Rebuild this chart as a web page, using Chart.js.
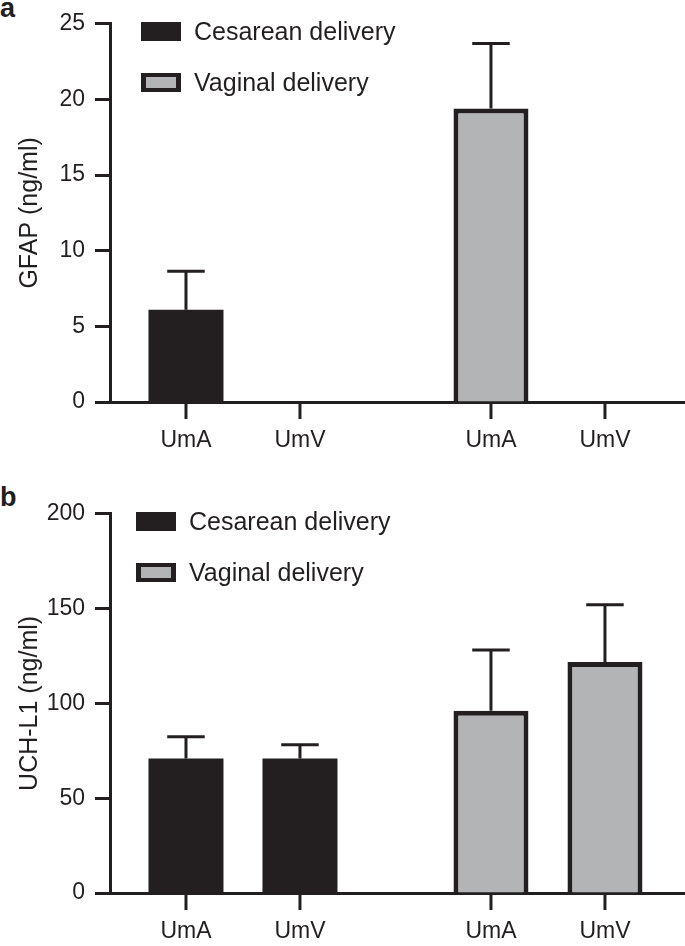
<!DOCTYPE html>
<html>
<head>
<meta charset="utf-8">
<script src="https://cdn.jsdelivr.net/npm/chart.js@4.4.1/dist/chart.umd.min.js"></script>
<style>
  html, body { margin: 0; padding: 0; background: #ffffff; }
  #wrap { position: relative; width: 685px; height: 946px; overflow: hidden; font-family: "Liberation Sans", Arial, Helvetica, sans-serif; color: #231f20; }
  canvas { position: absolute; left: 0; }
  .plabel { position: absolute; font-weight: bold; font-size: 27px; line-height: 27px; }
  .legend { position: absolute; }
  .item { position: absolute; left: 0; height: 19px; display: flex; align-items: center; white-space: nowrap; font-size: 25px; }
  .box { width: 40px; height: 19px; box-sizing: border-box; margin-right: 13px; flex: none; }
  .box.c { background: #231f20; }
  .box.v { background: #b3b4b6; border: 5px solid #231f20; border-width: 4px 5px; }
</style>
</head>
<body>
<div id="wrap">
  <div class="plabel" style="left:0px; top:-5px;">a</div>
  <canvas id="chartA" width="685" height="470" style="top:0px;"></canvas>
  <div class="legend" id="legA" style="left:141px; top:22px;"></div>

  <div class="plabel" style="left:0px; top:484px;">b</div>
  <canvas id="chartB" width="685" height="456" style="top:490px;"></canvas>
  <div class="legend" id="legB" style="left:136px; top:512px;"></div>
</div>
<script>
// ---- data ----
const groups = ['Cesarean delivery', 'Vaginal delivery'];
const groupIndex = [0, 1];
const sites = ['UmA', 'UmV'];

const gfapUmA = [6.1, 19.4];
const gfapUmAErr = [2.55, 4.3];
const gfapUmV = [0, 0];
const gfapUmVErr = [0, 0];
const gfapTicks = [0, 5, 10, 15, 20, 25];

const uchUmA = [70.9, 96.1];
const uchUmAErr = [11.5, 32.0];
const uchUmV = [70.9, 121.8];
const uchUmVErr = [7.3, 30.2];
const uchTicks = [0, 50, 100, 150, 200];

// ---- styles ----
const INK = '#231f20';
const GRAY = '#b3b4b6';
const FONT = '"Liberation Sans", Arial, Helvetica, sans-serif';
const groupFill = [INK, GRAY];
const groupBorder = [0, 5];

Chart.defaults.font.family = FONT;
Chart.defaults.color = INK;

function buildLegend(id) {
  const el = document.getElementById(id);
  groups.forEach((g, i) => {
    const it = document.createElement('div');
    it.className = 'item';
    it.style.top = (i * 51) + 'px';
    const b = document.createElement('span');
    b.className = 'box ' + (i === 0 ? 'c' : 'v');
    const t = document.createElement('span');
    t.textContent = g;
    it.appendChild(b); it.appendChild(t);
    el.appendChild(it);
  });
}
buildLegend('legA');
buildLegend('legB');

const errorBars = {
  id: 'errorBars',
  afterDatasetsDraw(chart) {
    const ctx = chart.ctx, ys = chart.scales.y;
    chart.data.datasets.forEach((ds, di) => {
      chart.getDatasetMeta(di).data.forEach((bar, i) => {
        const v = ds.data[i].y, e = ds.errors[i];
        if (!e) return;
        const yTop = ys.getPixelForValue(v + e);
        const half = bar.width / 4;
        ctx.save();
        ctx.strokeStyle = INK; ctx.lineWidth = 3; ctx.lineCap = 'butt';
        ctx.beginPath();
        ctx.moveTo(bar.x, bar.y); ctx.lineTo(bar.x, yTop);
        ctx.moveTo(bar.x - half, yTop); ctx.lineTo(bar.x + half, yTop);
        ctx.stroke();
        ctx.restore();
      });
    });
  }
};

const siteAxis = {
  id: 'siteAxis',
  afterDraw(chart) {
    const ctx = chart.ctx, b = chart.chartArea.bottom;
    chart.data.datasets.forEach((ds, di) => {
      chart.getDatasetMeta(di).data.forEach(bar => {
        ctx.save();
        ctx.strokeStyle = INK; ctx.lineWidth = 3;
        ctx.beginPath(); ctx.moveTo(bar.x, b); ctx.lineTo(bar.x, b + 17); ctx.stroke();
        ctx.fillStyle = INK;
        ctx.font = '23px ' + FONT;
        ctx.textAlign = 'center'; ctx.textBaseline = 'middle';
        ctx.fillText(ds.label, bar.x, b + 39);
        ctx.restore();
      });
    });
  }
};

function makeChart(id, umA, umAErr, umV, umVErr, ticks, title, xHeight) {
  const mk = (vals) => groupIndex.map((g, i) => ({ x: g, y: vals[i] }));
  const datasets = [
    { label: sites[0], data: mk(umA), errors: umAErr },
    { label: sites[1], data: mk(umV), errors: umVErr }
  ].map(d => Object.assign(d, {
    backgroundColor: groupFill,
    borderColor: INK,
    borderWidth: groupBorder,
    categoryPercentage: 0.7475,
    barPercentage: 0.658
  }));
  return new Chart(document.getElementById(id), {
    type: 'bar',
    data: { datasets },
    options: {
      responsive: false,
      animation: false,
      devicePixelRatio: 1,
      layout: { padding: { left: 0, right: 1, top: 22, bottom: 0 } },
      plugins: { legend: { display: false }, tooltip: { enabled: false } },
      scales: {
        x: {
          type: 'linear',
          offset: false,
          bounds: 'data',
          min: -0.436,
          max: 1.446,
          afterBuildTicks(s) { s.ticks = groupIndex.map(v => ({ value: v })); },
          ticks: { display: false },
          grid: { display: true, offset: false, drawOnChartArea: false, drawTicks: false },
          border: { display: true, width: 3, color: INK },
          afterFit(s) { s.height = xHeight; }
        },
        y: {
          min: ticks[0],
          max: ticks[ticks.length - 1],
          afterBuildTicks(s) { s.ticks = ticks.map(v => ({ value: v })); },
          ticks: { color: INK, font: { size: 23 }, padding: 10 },
          grid: { drawOnChartArea: false, drawTicks: true, tickLength: 15, tickWidth: 3, tickColor: INK },
          border: { display: true, width: 3, color: INK },
          title: { display: true, text: title, color: INK, font: { size: 25 }, padding: { top: 15, bottom: 0 } },
          afterFit(s) { s.width = 110; }
        }
      }
    },
    plugins: [errorBars, siteAxis]
  });
}

makeChart('chartA', gfapUmA, gfapUmAErr, gfapUmV, gfapUmVErr, gfapTicks, 'GFAP (ng/ml)', 68);
makeChart('chartB', uchUmA, uchUmAErr, uchUmV, uchUmVErr, uchTicks, 'UCH-L1 (ng/ml)', 53);
</script>
</body>
</html>
